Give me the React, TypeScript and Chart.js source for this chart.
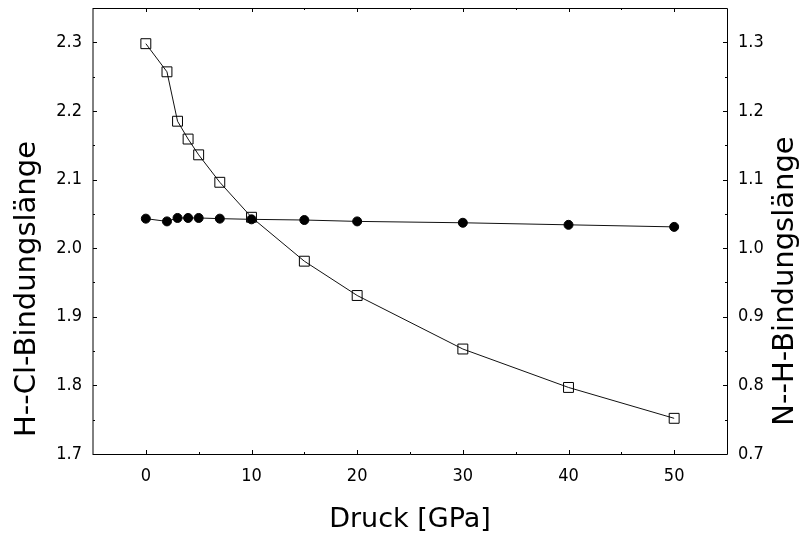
import { useEffect, useRef } from "react";
import { Chart, registerables } from "chart.js";

Chart.register(...registerables);

// ---- data ----
const pressure = [0, 2, 3, 4, 5, 7, 10, 15, 20, 30, 40, 50];
const hclLength = [2.298, 2.257, 2.185, 2.159, 2.136, 2.096, 2.045, 1.981, 1.931, 1.853, 1.797, 1.752];
const nhLength = [1.043, 1.039, 1.044, 1.044, 1.044, 1.043, 1.042, 1.041, 1.039, 1.037, 1.034, 1.031];

const xTicks = [0, 10, 20, 30, 40, 50];
const xMinorTicks = [5, 15, 25, 35, 45];
const leftTicks = [1.7, 1.8, 1.9, 2.0, 2.1, 2.2, 2.3];
const leftMinorTicks = [1.75, 1.85, 1.95, 2.05, 2.15, 2.25];
const rightTicks = [0.7, 0.8, 0.9, 1.0, 1.1, 1.2, 1.3];
const rightMinorTicks = [0.75, 0.85, 0.95, 1.05, 1.15, 1.25];

const xTitle = "Druck [GPa]";
const leftTitle = "H--Cl-Bindungslänge";
const rightTitle = "N--H-Bindungslänge";

const FONT = '"DejaVu Sans Condensed", "DejaVu Sans", sans-serif';
const TITLE_FONT = '"DejaVu Sans", sans-serif';

const framePlugin = {
  id: "frame",
  afterDraw(chart: any) {
    const { ctx, chartArea: a, scales } = chart;
    const sx = scales.x, yl = scales.y, yr = scales.y2;
    ctx.save();
    ctx.strokeStyle = "#000";
    ctx.lineWidth = 1;
    const MAJ = 4, MIN = 2;
    ctx.beginPath();
    const vt = (vals: number[], len: number) => {
      vals.forEach((v) => {
        const px = Math.round(sx.getPixelForValue(v)) + 0.5;
        ctx.moveTo(px, a.bottom);
        ctx.lineTo(px, a.bottom - len);
        ctx.moveTo(px, a.top);
        ctx.lineTo(px, a.top + len);
      });
    };
    const lt = (scale: any, vals: number[], len: number, left: boolean) => {
      vals.forEach((v) => {
        const py = Math.round(scale.getPixelForValue(v)) + 0.5;
        if (left) {
          ctx.moveTo(a.left, py);
          ctx.lineTo(a.left + len, py);
        } else {
          ctx.moveTo(a.right, py);
          ctx.lineTo(a.right - len, py);
        }
      });
    };
    vt(xTicks, MAJ);
    vt(xMinorTicks, MIN);
    lt(yl, leftTicks, MAJ, true);
    lt(yl, leftMinorTicks, MIN, true);
    lt(yr, rightTicks, MAJ, false);
    lt(yr, rightMinorTicks, MIN, false);
    ctx.stroke();

    // frame
    ctx.beginPath();
    ctx.moveTo(a.left, a.top + 0.5);
    ctx.lineTo(a.right + 0.5, a.top + 0.5);
    ctx.lineTo(a.right + 0.5, a.bottom + 0.5);
    ctx.lineTo(a.left, a.bottom + 0.5);
    ctx.stroke();
    ctx.beginPath();
    ctx.moveTo(a.left, a.top);
    ctx.lineTo(a.left, a.bottom + 1);
    ctx.stroke();

    // titles
    ctx.fillStyle = "#000";
    ctx.textAlign = "center";
    ctx.textBaseline = "middle";
    ctx.font = `27px ${TITLE_FONT}`;
    ctx.fillText(xTitle, (a.left + a.right) / 2, 520);
    ctx.font = `29px ${TITLE_FONT}`;
    ctx.save();
    ctx.translate(27, 289);
    ctx.rotate(-Math.PI / 2);
    ctx.fillText(leftTitle, 0, 0);
    ctx.restore();
    ctx.save();
    ctx.translate(785, 281);
    ctx.rotate(-Math.PI / 2);
    ctx.fillText(rightTitle, 0, 0);
    ctx.restore();
    ctx.restore();
  },
};

export default function App() {
  const ref = useRef<HTMLCanvasElement | null>(null);
  useEffect(() => {
    if (!ref.current) return;
    const tickFont = { family: FONT, size: 18 };
    const chart = new Chart(ref.current, {
      type: "line",
      data: {
        datasets: [
          {
            label: "N-H",
            data: pressure.map((p, i) => ({ x: p, y: nhLength[i] })),
            yAxisID: "y2",
            borderColor: "#111",
            borderWidth: 1,
            pointStyle: "circle",
            pointRadius: 4.5,
            pointBackgroundColor: "#000",
            pointBorderColor: "#000",
            pointBorderWidth: 1,
            tension: 0,
            order: 0,
          },
          {
            label: "H-Cl",
            data: pressure.map((p, i) => ({ x: p, y: hclLength[i] })),
            yAxisID: "y",
            borderColor: "#111",
            borderWidth: 1,
            pointStyle: "rect",
            pointRadius: 7,
            pointBackgroundColor: "rgba(0,0,0,0)",
            pointBorderColor: "#000",
            pointBorderWidth: 1,
            tension: 0,
            order: 1,
          },
        ],
      },
      options: {
        responsive: false,
        animation: false,
        events: [],
        layout: { padding: { top: 8, left: 0, right: 0, bottom: 0 } },
        plugins: { legend: { display: false }, tooltip: { enabled: false } },
        scales: {
          x: {
            type: "linear",
            position: "bottom",
            min: -5,
            max: 55,
            grid: { display: false, drawTicks: false },
            border: { display: false },
            ticks: { font: tickFont, color: "#000", padding: 12, maxRotation: 0, callback: (v: any) => String(v) },
            afterBuildTicks: (s: any) => { s.ticks = xTicks.map((v) => ({ value: v })); },
            afterFit: (s: any) => { s.height = 99; s.paddingLeft = 0; s.paddingRight = 0; },
          },
          y: {
            type: "linear",
            position: "left",
            min: 1.7,
            max: 2.35,
            grid: { display: false, drawTicks: false },
            border: { display: false },
            ticks: { font: tickFont, color: "#000", padding: 11, callback: (v: any) => Number(v).toFixed(1) },
            afterBuildTicks: (s: any) => { s.ticks = leftTicks.map((v) => ({ value: v })); },
            afterFit: (s: any) => { s.width = 93; s.paddingTop = 0; s.paddingBottom = 0; },
          },
          y2: {
            type: "linear",
            position: "right",
            min: 0.7,
            max: 1.35,
            grid: { display: false, drawTicks: false },
            border: { display: false },
            ticks: { font: tickFont, color: "#000", padding: 11, callback: (v: any) => Number(v).toFixed(1) },
            afterBuildTicks: (s: any) => { s.ticks = rightTicks.map((v) => ({ value: v })); },
            afterFit: (s: any) => { s.width = 81; s.paddingTop = 0; s.paddingBottom = 0; },
          },
        },
      },
      plugins: [framePlugin],
    } as any);
    return () => chart.destroy();
  }, []);
  return (
    <canvas
      ref={ref}
      width={808}
      height={553}
      style={{ position: "absolute", left: 0, top: 0, width: 808, height: 553, display: "block", background: "#fff" }}
    />
  );
}
